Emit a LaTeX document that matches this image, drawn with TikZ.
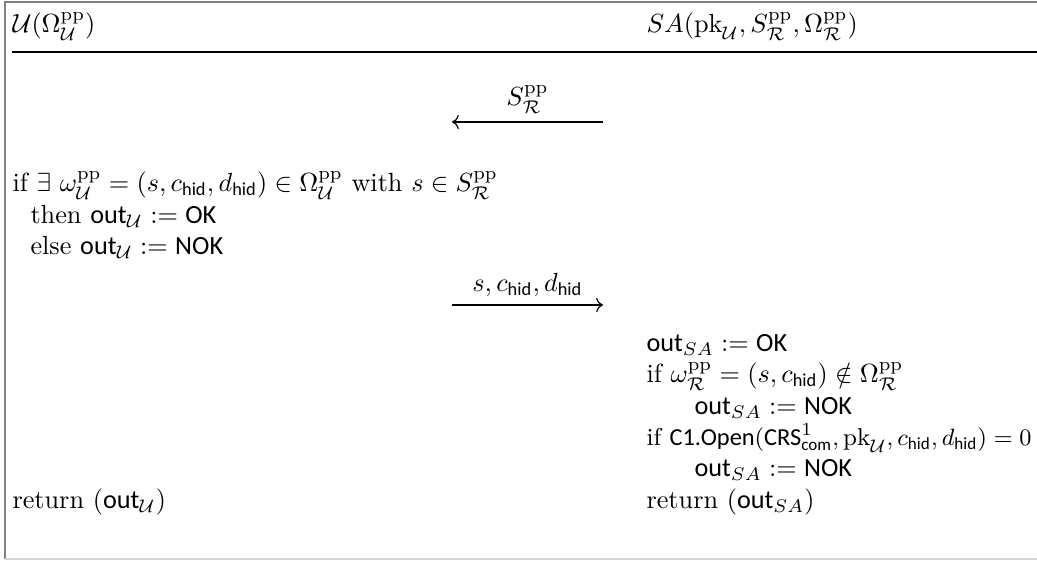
\documentclass[tikz,border=0pt]{standalone}
\usepackage{amsmath,amssymb}
\usepackage{fontspec}
\setsansfont{Carlito}
\usepackage{tikz}
\usetikzlibrary{arrows.meta,positioning}
\definecolor{grismarco}{HTML}{808080}
\definecolor{grisfondo}{HTML}{D4D4D4}
\newcommand{\usr}{\mathcal{U}}
\newcommand{\rel}{\mathcal{R}}
\newcommand{\ppsup}{\mathrm{pp}}
\newcommand{\sfm}[1]{\text{\sffamily #1}}
\newcommand{\hidx}{\sfm{hid}}
\newcommand{\salida}{\sfm{out}}

\begin{document}
\begin{tikzpicture}[x=0.013394cm, y=-0.013394cm,
    linea/.style={anchor=base west, inner sep=0pt},
    flecha/.style={->, line width=0.45pt},
    etiqueta/.style={above=3pt, inner sep=0pt},
    marco/.style={draw=grismarco, line width=0.6pt}
  ]
    \useasboundingbox (0,0) rectangle (1037,561);
    % marco y cabecera
    \draw[marco] (5,559) -- (5,2) -- (1037,2);
    \draw[draw=grisfondo, line width=0.6pt] (5,559) -- (1037,559);
    \draw[line width=0.7pt] (12,52) -- (1037,52);
    \node[linea] (usuario) at (12,33) {$\usr(\Omega^{\ppsup}_{\usr})$};
    \node[linea] (servidor) at (646,33) {$SA(\mathrm{pk}_{\usr}, S^{\ppsup}_{\rel}, \Omega^{\ppsup}_{\rel})$};

    % mensajes
    \coordinate (m1der) at (603,122);
    \coordinate (m1izq) at (452,122);
    \coordinate (m2izq) at (452,305);
    \coordinate (m2der) at (603,305);
    \draw[flecha] (m1der) -- node[etiqueta] (msj1) {$S^{\ppsup}_{\rel}$} (m1izq);
    \draw[flecha] (m2izq) -- node[etiqueta] (msj2) {$s, c_{\hidx}, d_{\hidx}$} (m2der);

    % lado del usuario
    \node[linea] (u1) at (12,192) {if $\exists\ \omega^{\ppsup}_{\usr} = (s, c_{\hidx}, d_{\hidx}) \in \Omega^{\ppsup}_{\usr}$ with $s \in S^{\ppsup}_{\rel}$};
    \node[linea] (u2) at (30,224) {then $\salida_{\usr} := \sfm{OK}$};
    \node[linea] (u3) at (30,255) {else $\salida_{\usr} := \sfm{NOK}$};
    \node[linea] (u4) at (12,509) {return $(\salida_{\usr})$};

    % lado del servidor
    \node[linea] (s1) at (646,352) {$\salida_{SA} := \sfm{OK}$};
    \node[linea] (s2) at (646,383) {if $\omega^{\ppsup}_{\rel} = (s, c_{\hidx}) \notin \Omega^{\ppsup}_{\rel}$};
    \node[linea] (s3) at (694,415) {$\salida_{SA} := \sfm{NOK}$};
    \node[linea, font=\fontsize{9.3}{11}\selectfont] (s4) at (646,446)
      {if $\sfm{C1.Open}(\sfm{CRS}^1_{\sfm{com}}, \mathrm{pk}_{\usr}, c_{\hidx}, d_{\hidx}) = 0$};
    \node[linea] (s5) at (694,477) {$\salida_{SA} := \sfm{NOK}$};
    \node[linea] (s6) at (646,509) {return $(\salida_{SA})$};
  \end{tikzpicture}
\end{document}
